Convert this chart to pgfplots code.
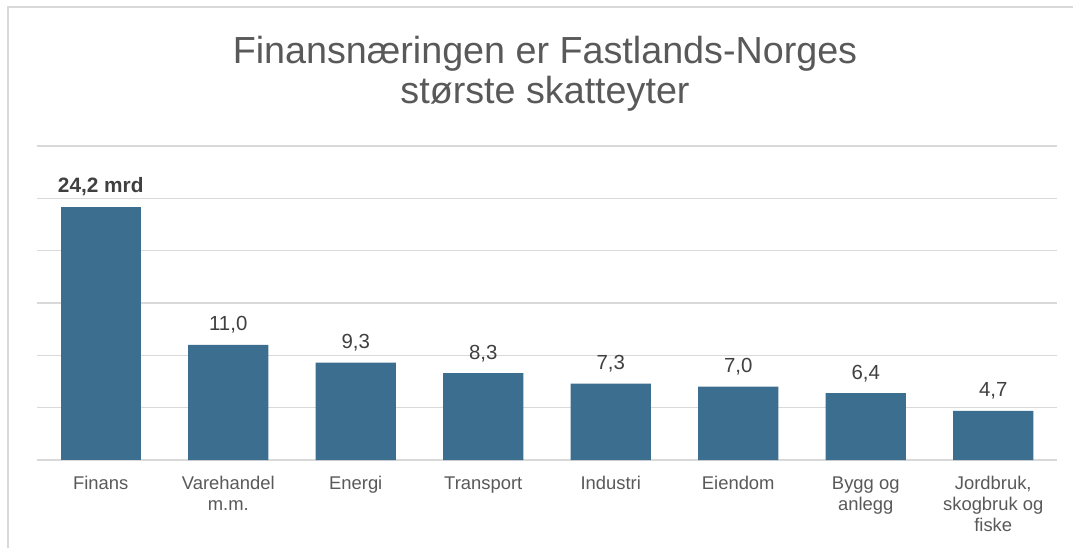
\documentclass[border=0pt]{standalone}
\usepackage{fontspec}
\setmainfont{Liberation Sans}
\usepackage{pgfplots}
\pgfplotsset{compat=1.18}
\definecolor{barblue}{RGB}{60,110,143}
\definecolor{gridgray}{RGB}{217,217,217}
\definecolor{txtgray}{RGB}{89,89,89}
\definecolor{lblgray}{RGB}{64,64,64}
\begin{document}
\begin{tikzpicture}
\path[use as bounding box] (0,0) rectangle (536.5pt,274pt);
\fill[white] (0,0) rectangle (536.5pt,274pt);
\draw[gridgray, line width=0.6pt] (4pt,0) -- (4pt,270.5pt) -- (536.5pt,270.5pt);
\begin{axis}[
  at={(18.5pt,44pt)}, anchor=south west,
  scale only axis, width=510pt, height=157pt,
  xmin=-0.5, xmax=7.5, ymin=0, ymax=30,
  ytick={0,5,...,30}, yticklabels={},
  ymajorgrids, grid style={gridgray, line width=0.75pt},
  axis line style={draw=none}, major tick length=0pt,
  xtick={0,...,7},
  xticklabels={\strut Finans, {\strut Varehandel\\m.m.}, \strut Energi, \strut Transport, \strut Industri, \strut Eiendom, {\strut Bygg og\\anlegg}, {\strut Jordbruk,\\skogbruk og\\fiske}},
  xticklabel style={font=\fontsize{9.2}{10.3}\selectfont, text=txtgray, align=center, anchor=north, inner sep=0pt, yshift=-7.5pt},
  ybar, bar width=40pt,
  every node near coord/.append style={anchor=base, inner sep=0pt, yshift=7pt, text=lblgray},
]
\addplot[fill=barblue, draw=none, bar shift=0pt,
  nodes near coords={\textbf{\pgfmathprintnumber[fixed,fixed zerofill,precision=1,use comma,assume math mode=true]{\pgfplotspointmeta}~mrd}},
  every node near coord/.append style={font=\fontsize{10.4}{12}\selectfont}]
  coordinates {(0,24.2)};
\addplot[fill=barblue, draw=none, bar shift=0pt,
  nodes near coords={\pgfmathprintnumber[fixed,fixed zerofill,precision=1,use comma,assume math mode=true]{\pgfplotspointmeta}},
  every node near coord/.append style={font=\fontsize{10.2}{12}\selectfont}]
  coordinates {(1,11.0) (2,9.3) (3,8.3) (4,7.3) (5,7.0) (6,6.4) (7,4.7)};
\end{axis}
\node[anchor=base, text=txtgray, font=\fontsize{18.85}{22}\selectfont, inner sep=0pt] at (272.5pt,242.5pt) {Finansnæringen er Fastlands-Norges};
\node[anchor=base, text=txtgray, font=\fontsize{18.85}{22}\selectfont, inner sep=0pt] at (272.5pt,222.4pt) {største skatteyter};
\end{tikzpicture}
\end{document}
